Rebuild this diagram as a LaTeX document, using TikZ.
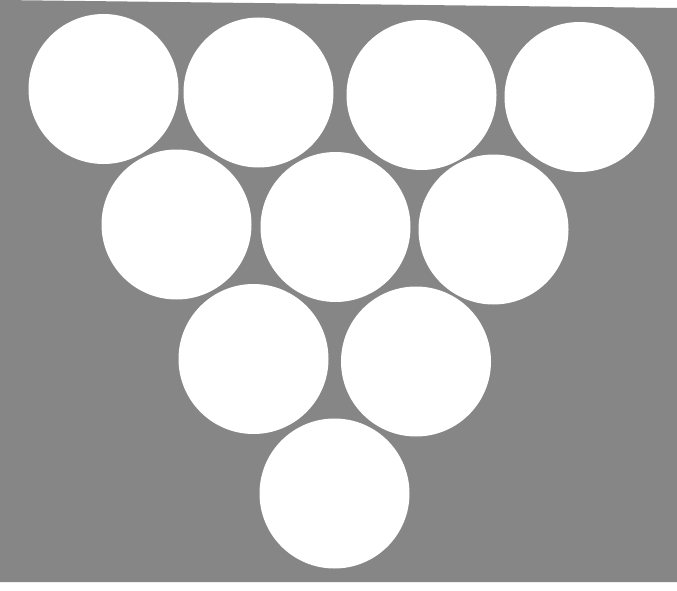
\documentclass[tikz,border=0pt]{standalone}
\definecolor{bg}{RGB}{134,134,134}
\tikzset{ball/.style={fill=white,draw=none}}
\begin{document}
\begin{tikzpicture}[x=1pt,y=-1pt]
\useasboundingbox (0,0) rectangle (677,591);
\fill[white] (0,0) rectangle (677,591);
\fill[bg] (0,0) -- (677,8) -- (677,582) -- (0,582) -- cycle;
\foreach \n/\x/\y in {a/103.5/89, b/258.5/92.5, c/421.5/95, d/579.5/97,
  e/176.5/224.5, f/335.5/227, g/493.5/229.5,
  h/253.5/359, i/416/361.5, j/334.5/493.5}
  \fill[ball] (\x,\y) circle[radius=75];
\end{tikzpicture}
\end{document}
